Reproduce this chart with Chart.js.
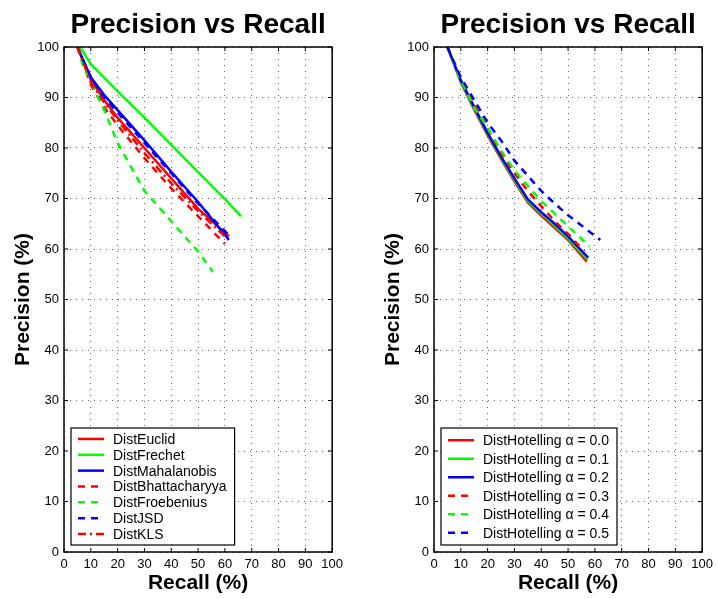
<!DOCTYPE html>
<html>
<head>
<meta charset="utf-8">
<script src="https://cdn.jsdelivr.net/npm/chart.js@4.4.1/dist/chart.umd.min.js"></script>
<style>
  html, body { margin: 0; padding: 0; background: #fff; }
  #wrap { position: relative; width: 718px; height: 599px; }
  canvas { position: absolute; top: 0; }
  #left { left: 0; }
  #right { left: 370px; }
</style>
</head>
<body>
<div id="wrap">
  <canvas id="left" width="348" height="599"></canvas>
  <canvas id="right" width="348" height="599"></canvas>
</div>
<script>
// axis ticks shared by both panels
const tickValues = [0, 10, 20, 30, 40, 50, 60, 70, 80, 90, 100];

// left panel: distance measures
const euclidRecall = [5, 10, 15, 20, 30, 40, 50, 61.5];
const euclidPrec   = [100, 93.5, 89.5, 86, 80, 74, 68, 62.5];
const frechetRecall = [6, 10, 20, 30, 40, 50, 60, 66];
const frechetPrec   = [100, 96.6, 91.2, 86, 80.6, 75.2, 69.9, 66.5];
const mahalRecall = [5, 10, 15, 20, 30, 40, 50, 61.5];
const mahalPrec   = [100, 94, 90.5, 87.5, 81.5, 75.3, 69.3, 61.8];
const bhattRecall = [5, 10, 15, 20, 30, 40, 50, 60];
const bhattPrec   = [100, 92.5, 88, 84.5, 78, 72, 66.5, 61];
const froebRecall = [5, 7, 15, 20, 30, 40, 50, 55.5];
const froebPrec   = [100, 96.5, 87.5, 81, 71.5, 65.5, 59.5, 55.5];
const jsdRecall = [5, 10, 15, 20, 30, 40, 50, 62];
const jsdPrec   = [100, 94, 90, 87, 81, 75, 69, 62.5];
const klsRecall = [5, 10, 15, 20, 30, 40, 50, 60];
const klsPrec   = [100, 93, 89, 85.5, 79, 73, 67.5, 62.5];

// right panel: DistHotelling with different alpha
const hotRecall0 = [5, 10, 15, 20, 25, 30, 35, 40, 45, 50, 57];
const hotPrec0   = [100, 93, 87.6, 82.5, 77.8, 73.4, 69.2, 66.6, 64.2, 61.8, 57.5];
const hotRecall1 = [5, 10, 15, 20, 25, 30, 35, 40, 45, 50, 57.3];
const hotPrec1   = [100, 93.2, 87.9, 82.8, 78, 73.7, 69.5, 67, 64.6, 62.1, 57.9];
const hotRecall2 = [5, 10, 15, 20, 25, 30, 35, 40, 45, 50, 57.5];
const hotPrec2   = [100, 93.4, 88.1, 83, 78.3, 74, 69.8, 67.3, 65, 62.5, 58.3];
const hotRecall3 = [5, 10, 15, 20, 25, 30, 35, 40, 45, 50, 56];
const hotPrec3   = [100, 93.5, 88.5, 84, 79, 75, 71.5, 68.5, 65.5, 63, 59.5];
const hotRecall4 = [5, 10, 15, 20, 25, 30, 35, 40, 45, 50, 58];
const hotPrec4   = [100, 93.5, 88, 84, 79.5, 75.6, 72.5, 69.5, 67, 64.5, 60.5];
const hotRecall5 = [5, 10, 15, 20, 25, 30, 35, 40, 45, 50, 62];
const hotPrec5   = [100, 94, 89.5, 85, 81.5, 77.5, 74.5, 71.5, 69, 66.7, 61.8];

const RED = '#ff0000', GREEN = '#00ff00', BLUE = '#0000ff';
const DASH = [7, 6];
const DASHDOT = [8, 4, 2, 4];

const pts = (xs, ys) => xs.map((x, i) => ({ x: x, y: ys[i] }));

const series = (label, xs, ys, color, dash, n, i) => ({
  label: label,
  data: pts(xs, ys),
  borderColor: color,
  backgroundColor: color,
  borderWidth: 2.5,
  borderDash: dash,
  showLine: true,
  pointRadius: 0,
  tension: 0,
  order: n - i
});

// frame with inward ticks, MATLAB-like
const framePlugin = {
  id: 'frame',
  afterDatasetsDraw(chart) {
    const { ctx, chartArea: a, scales } = chart;
    ctx.save();
    ctx.strokeStyle = '#000';
    ctx.lineWidth = 1.5;
    ctx.setLineDash([]);
    ctx.strokeRect(a.left, a.top, a.right - a.left, a.bottom - a.top);
    ctx.lineWidth = 1;
    const tl = 4;
    tickValues.forEach(v => {
      const px = scales.x.getPixelForValue(v);
      const py = scales.y.getPixelForValue(v);
      ctx.beginPath();
      ctx.moveTo(px, a.bottom); ctx.lineTo(px, a.bottom - tl);
      ctx.moveTo(px, a.top); ctx.lineTo(px, a.top + tl);
      ctx.moveTo(a.left, py); ctx.lineTo(a.left + tl, py);
      ctx.moveTo(a.right, py); ctx.lineTo(a.right - tl, py);
      ctx.stroke();
    });
    ctx.restore();
  }
};

// title centred over the plot area
const titlePlugin = {
  id: 'plotTitle',
  afterDraw(chart, args, opts) {
    const { ctx, chartArea: a } = chart;
    ctx.save();
    ctx.font = 'bold 28px "Liberation Sans", Arial, sans-serif';
    ctx.fillStyle = '#000';
    ctx.textAlign = 'center';
    ctx.textBaseline = 'alphabetic';
    ctx.fillText(opts.text, (a.left + a.right) / 2, 33);
    ctx.restore();
  }
};

// boxed legend inside the lower-left corner of the plot
const boxLegendPlugin = {
  id: 'boxLegend',
  afterDraw(chart, args, opts) {
    const { ctx, chartArea: a } = chart;
    const sets = chart.data.datasets;
    ctx.save();
    ctx.font = '14px "Liberation Sans", Arial, sans-serif';
    let maxW = 0;
    sets.forEach(d => { maxW = Math.max(maxW, ctx.measureText(d.label).width); });
    const boxW = 42 + maxW + 8;
    const boxH = 117;
    const x0 = a.left + 7;
    const y0 = a.bottom - 7 - boxH;
    const rowH = (boxH - 6) / sets.length;
    ctx.fillStyle = '#fff';
    ctx.fillRect(x0, y0, boxW, boxH);
    ctx.strokeStyle = '#000';
    ctx.lineWidth = 1.2;
    ctx.strokeRect(x0, y0, boxW, boxH);
    sets.forEach((d, i) => {
      const cy = y0 + 3 + rowH * (i + 0.5);
      ctx.beginPath();
      ctx.strokeStyle = d.borderColor;
      ctx.lineWidth = 2.5;
      ctx.setLineDash(d.borderDash || []);
      ctx.moveTo(x0 + 7, cy);
      ctx.lineTo(x0 + 33, cy);
      ctx.stroke();
      ctx.setLineDash([]);
      ctx.fillStyle = '#000';
      ctx.textBaseline = 'middle';
      ctx.textAlign = 'left';
      ctx.fillText(d.label, x0 + 42, cy + 1);
    });
    ctx.restore();
  }
};

function makeOptions(titleText) {
  const tickFont = { family: '"Liberation Sans", Arial, sans-serif', size: 13 };
  const axisTitleFont = { family: '"Liberation Sans", Arial, sans-serif', size: 21, weight: 'bold' };
  return {
    responsive: false,
    animation: false,
    layout: { padding: { top: 47, right: 14, left: 0, bottom: 0 } },
    plugins: {
      legend: { display: false },
      tooltip: { enabled: false },
      plotTitle: { text: titleText }
    },
    scales: {
      x: {
        type: 'linear',
        min: 0,
        max: 100,
        afterFit: s => { s.height = 47; },
        afterBuildTicks: s => { s.ticks = tickValues.map(v => ({ value: v })); },
        ticks: { font: tickFont, color: '#000', padding: 5, maxRotation: 0, autoSkip: false },
        grid: { color: 'rgba(0,0,0,0.6)', lineWidth: 1, drawTicks: false },
        border: { display: false, dash: [1, 5] },
        title: { display: true, text: 'Recall (%)', font: axisTitleFont, color: '#000', padding: { top: 0, bottom: 3 } }
      },
      y: {
        type: 'linear',
        min: 0,
        max: 100,
        afterFit: s => { s.width = 64; },
        afterBuildTicks: s => { s.ticks = tickValues.map(v => ({ value: v })); },
        ticks: { font: tickFont, color: '#000', padding: 5, autoSkip: false },
        grid: { color: 'rgba(0,0,0,0.6)', lineWidth: 1, drawTicks: false },
        border: { display: false, dash: [1, 5] },
        title: { display: true, text: 'Precision (%)', font: axisTitleFont, color: '#000', padding: { top: 11, bottom: 0 } }
      }
    }
  };
}

const leftSets = [
  ['DistEuclid', euclidRecall, euclidPrec, RED, []],
  ['DistFrechet', frechetRecall, frechetPrec, GREEN, []],
  ['DistMahalanobis', mahalRecall, mahalPrec, BLUE, []],
  ['DistBhattacharyya', bhattRecall, bhattPrec, RED, DASH],
  ['DistFroebenius', froebRecall, froebPrec, GREEN, DASH],
  ['DistJSD', jsdRecall, jsdPrec, BLUE, DASH],
  ['DistKLS', klsRecall, klsPrec, RED, DASHDOT]
];

const rightSets = [
  ['DistHotelling \u03b1 = 0.0', hotRecall0, hotPrec0, RED, []],
  ['DistHotelling \u03b1 = 0.1', hotRecall1, hotPrec1, GREEN, []],
  ['DistHotelling \u03b1 = 0.2', hotRecall2, hotPrec2, BLUE, []],
  ['DistHotelling \u03b1 = 0.3', hotRecall3, hotPrec3, RED, DASH],
  ['DistHotelling \u03b1 = 0.4', hotRecall4, hotPrec4, GREEN, DASH],
  ['DistHotelling \u03b1 = 0.5', hotRecall5, hotPrec5, BLUE, DASH]
];

new Chart(document.getElementById('left'), {
  type: 'scatter',
  data: {
    datasets: leftSets.map((s, i) => series(s[0], s[1], s[2], s[3], s[4], leftSets.length, i))
  },
  options: makeOptions('Precision vs Recall'),
  plugins: [framePlugin, titlePlugin, boxLegendPlugin]
});

new Chart(document.getElementById('right'), {
  type: 'scatter',
  data: {
    datasets: rightSets.map((s, i) => series(s[0], s[1], s[2], s[3], s[4], rightSets.length, i))
  },
  options: makeOptions('Precision vs Recall'),
  plugins: [framePlugin, titlePlugin, boxLegendPlugin]
});
</script>
</body>
</html>
